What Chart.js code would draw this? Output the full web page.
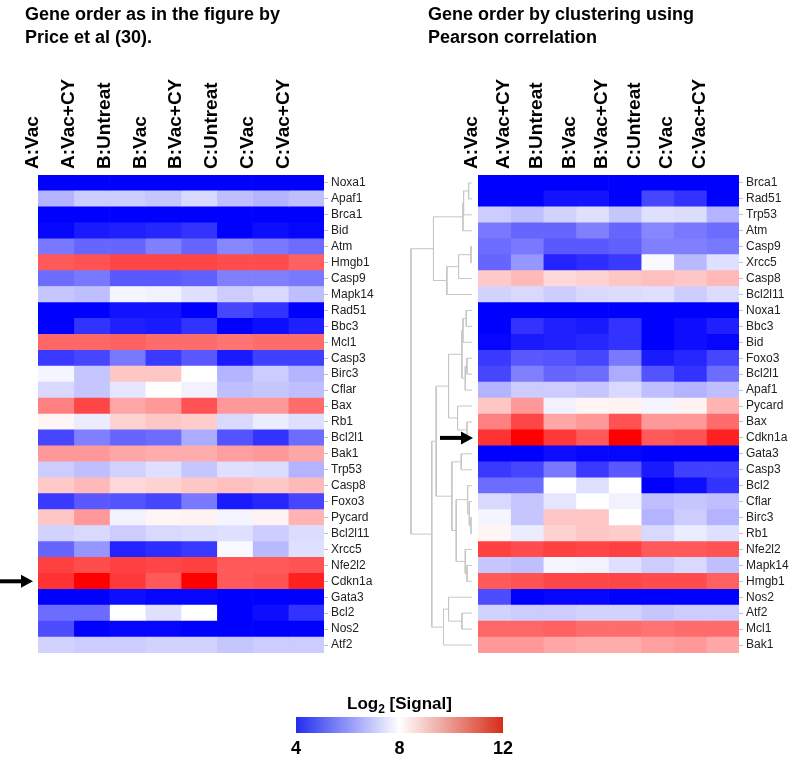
<!DOCTYPE html>
<html>
<head>
<meta charset="utf-8">
<script src="https://cdn.jsdelivr.net/npm/chart.js@4.4.1/dist/chart.umd.min.js"></script>
<style>
html, body { margin: 0; padding: 0; background: #fff; }
#wrap { position: relative; width: 793px; height: 761px; overflow: hidden; font-family: Arial, "Liberation Sans", sans-serif; }
#wrap canvas { position: absolute; left: 0; top: 0; }
.ttl { position: absolute; font-weight: bold; font-size: 18px; line-height: 23px; color: #000; white-space: nowrap; }
#legTitle { position: absolute; left: 296px; width: 207px; top: 694px; text-align: center; font-weight: bold; font-size: 17px; line-height: 20px; }
#legTitle sub { font-size: 12px; }
</style>
</head>
<body>
<div id="wrap">
  <canvas id="dendro" width="793" height="761"></canvas>
  <canvas id="left" width="793" height="761"></canvas>
  <canvas id="right" width="793" height="761"></canvas>
  <canvas id="scale" width="793" height="761"></canvas>
  <div class="ttl" style="left:25px; top:3px">Gene order as in the figure by<br>Price et al (30).</div>
  <div class="ttl" style="left:428px; top:3px">Gene order by clustering using<br>Pearson correlation</div>
  <div id="legTitle">Log<sub>2</sub> [Signal]</div>
</div>
<script>
"use strict";
Chart.defaults.font.family = 'Arial, "Liberation Sans", sans-serif';

const conditions = ["A:Vac", "A:Vac+CY", "B:Untreat", "B:Vac", "B:Vac+CY", "C:Untreat", "C:Vac", "C:Vac+CY"];

// gene order as in Price et al
const genes = ["Noxa1", "Apaf1", "Brca1", "Bid", "Atm", "Hmgb1", "Casp9", "Mapk14", "Rad51", "Bbc3",
  "Mcl1", "Casp3", "Birc3", "Cflar", "Bax", "Rb1", "Bcl2l1", "Bak1", "Trp53", "Casp8",
  "Foxo3", "Pycard", "Bcl2l11", "Xrcc5", "Nfe2l2", "Cdkn1a", "Gata3", "Bcl2", "Nos2", "Atf2"];

// log2 signal, one row per gene (same order as genes), one value per condition
const signal = [
  [3.8, 3.8, 3.9, 3.9, 3.8, 3.8, 3.8, 3.8],
  [6.8, 7.2, 7.2, 7.1, 7.4, 7.0, 6.8, 7.0],
  [3.8, 3.8, 3.9, 3.9, 3.8, 3.9, 3.9, 3.8],
  [4.1, 4.4, 4.5, 4.6, 4.8, 4.0, 4.2, 4.1],
  [5.9, 5.6, 5.6, 6.0, 5.6, 6.1, 5.9, 5.7],
  [10.6, 10.7, 10.9, 10.9, 10.9, 10.8, 10.8, 10.5],
  [5.7, 5.9, 5.4, 5.4, 5.5, 6.0, 6.0, 5.9],
  [7.1, 7.0, 7.85, 7.8, 7.5, 7.2, 7.4, 7.0],
  [4.0, 4.0, 4.3, 4.3, 4.0, 5.1, 4.8, 4.0],
  [4.0, 4.8, 4.5, 4.4, 4.8, 3.9, 4.2, 4.5],
  [10.4, 10.4, 10.5, 10.3, 10.3, 10.2, 10.3, 10.3],
  [4.9, 5.1, 5.9, 4.9, 5.4, 4.4, 5.0, 5.0],
  [7.85, 7.1, 8.9, 8.9, 8.0, 6.8, 7.2, 6.8],
  [7.4, 7.1, 7.6, 8.0, 7.8, 7.0, 7.1, 7.0],
  [10.0, 10.9, 9.4, 9.6, 10.7, 9.6, 9.6, 10.3],
  [8.15, 7.7, 8.7, 8.9, 8.8, 7.4, 7.7, 7.5],
  [5.1, 6.0, 5.6, 5.7, 6.7, 5.3, 4.8, 5.7],
  [9.6, 9.6, 9.4, 9.3, 9.3, 9.5, 9.6, 9.4],
  [7.2, 7.0, 7.3, 7.5, 7.1, 7.5, 7.45, 6.8],
  [8.85, 9.1, 8.6, 8.7, 8.9, 9.0, 8.9, 9.1],
  [4.9, 5.4, 5.3, 5.1, 5.9, 4.4, 4.6, 5.1],
  [8.9, 9.6, 7.8, 8.15, 8.2, 7.85, 8.2, 9.2],
  [7.3, 7.4, 7.2, 7.4, 7.45, 7.5, 7.2, 7.45],
  [5.6, 6.35, 4.55, 4.7, 4.9, 7.9, 6.9, 7.5],
  [11.0, 10.8, 11.0, 10.9, 11.0, 10.6, 10.6, 10.7],
  [11.2, 12.2, 11.1, 10.6, 12.3, 10.6, 10.7, 11.5],
  [3.9, 3.9, 4.2, 4.1, 4.1, 3.9, 3.9, 3.9],
  [5.7, 5.7, 8.0, 7.5, 8.0, 3.9, 4.2, 4.8],
  [5.2, 3.9, 4.1, 4.1, 3.9, 3.9, 3.9, 3.9],
  [7.3, 7.2, 7.2, 7.3, 7.3, 7.1, 7.2, 7.2]
];

// gene order from hierarchical clustering (Pearson)
const clusterOrder = ["Brca1", "Rad51", "Trp53", "Atm", "Casp9", "Xrcc5", "Casp8", "Bcl2l11", "Noxa1", "Bbc3",
  "Bid", "Foxo3", "Bcl2l1", "Apaf1", "Pycard", "Bax", "Cdkn1a", "Gata3", "Casp3", "Bcl2",
  "Cflar", "Birc3", "Rb1", "Nfe2l2", "Mapk14", "Hmgb1", "Nos2", "Atf2", "Mcl1", "Bak1"];

// dendrogram merges: [node, child a, child b, distance]
const merges = [
  ["c1", "Brca1", "Rad51", 0.10], ["c2", "c1", "Trp53", 0.25], ["c3", "c2", "Atm", 0.27],
  ["c4", "Casp9", "Xrcc5", 0.03], ["c5", "c4", "Casp8", 0.40], ["c6", "c5", "Bcl2l11", 0.75],
  ["c7", "c3", "c6", 1.15],
  ["m1", "Noxa1", "Bbc3", 0.17], ["m2", "m1", "Bid", 0.27], ["m3", "Foxo3", "Bcl2l1", 0.15],
  ["m4", "m3", "Apaf1", 0.20], ["m5", "m2", "m4", 0.30], ["m6", "Bax", "Cdkn1a", 0.15],
  ["m7", "Pycard", "m6", 0.43], ["m8", "m5", "m7", 0.70],
  ["l1", "Gata3", "Casp3", 0.32], ["l2", "Birc3", "Rb1", 0.03], ["l3", "Cflar", "l2", 0.08],
  ["l4", "Bcl2", "l3", 0.13], ["l5", "Mapk14", "Hmgb1", 0.15], ["l6", "Nfe2l2", "l5", 0.20],
  ["l7", "l4", "l6", 0.47], ["l8", "l1", "l7", 0.60],
  ["ml", "m8", "l8", 1.07],
  ["b1", "Atf2", "Mcl1", 0.30], ["b2", "Nos2", "b1", 0.70], ["b3", "b2", "Bak1", 0.85],
  ["mlb", "ml", "b3", 1.20],
  ["root", "c7", "mlb", 1.82]
];

const legendTicks = [4, 8, 12];
const marked = "Cdkn1a";

function signalColor(v) {
  let t;
  if (v < 8) {
    t = Math.max(0, Math.min(1, (v - 4) / 4));
    const c = Math.round(255 * t);
    return `rgb(${c},${c},255)`;
  }
  t = Math.max(0, Math.min(1, (v - 8) / 4));
  const c = Math.round(255 * (1 - t));
  return `rgb(255,${c},${c})`;
}

const arrowPlugin = {
  id: 'arrow',
  afterDraw(chart, args, opts) {
    const y = chart.scales.y.getPixelForValue(chart.data.labels.indexOf(marked));
    const ctx = chart.ctx;
    ctx.save();
    ctx.fillStyle = '#000';
    ctx.fillRect(opts.x0, y - 2, opts.x1 - opts.x0 - 10, 4);
    ctx.beginPath();
    ctx.moveTo(opts.x1, y);
    ctx.lineTo(opts.x1 - 12, y - 6.5);
    ctx.lineTo(opts.x1 - 12, y + 6.5);
    ctx.closePath();
    ctx.fill();
    ctx.restore();
  }
};

function heatmap(id, order, area, arrow) {
  const datasets = conditions.map((c, j) => ({
    label: c,
    data: order.map(() => [j, j + 1]),
    backgroundColor: order.map(g => signalColor(signal[genes.indexOf(g)][j])),
    borderWidth: 0,
    grouped: false,
    barPercentage: 1,
    categoryPercentage: 1
  }));
  return new Chart(document.getElementById(id), {
    type: 'bar',
    data: { labels: order, datasets: datasets },
    options: {
      indexAxis: 'y',
      responsive: false,
      animation: false,
      devicePixelRatio: 1,
      layout: { padding: { left: area.left, top: 0, right: 0, bottom: 761 - area.bottom } },
      plugins: { legend: { display: false }, tooltip: { enabled: false }, arrow: arrow },
      scales: {
        x: {
          type: 'linear', position: 'top', min: 0, max: conditions.length,
          afterBuildTicks: s => { s.ticks = conditions.map((c, j) => ({ value: j + 0.5 })); },
          afterFit: s => { s.height = area.top; },
          grid: { display: false }, border: { display: false },
          ticks: {
            autoSkip: false, minRotation: 90, maxRotation: 90, padding: -2, color: '#000',
            font: { size: 19, weight: 'bold' },
            callback: v => conditions[Math.floor(v)]
          }
        },
        y: {
          position: 'right',
          afterFit: s => { s.width = 793 - area.right; },
          grid: { drawOnChartArea: false, offset: false, tickLength: 4, color: '#c0c0c0' },
          border: { display: false },
          ticks: { autoSkip: false, padding: 3, color: '#222', font: { size: 12 } }
        }
      }
    },
    plugins: [arrowPlugin]
  });
}

heatmap('left', genes, { left: 38, right: 324, top: 175, bottom: 653 }, { x0: 0, x1: 33 });
heatmap('right', clusterOrder, { left: 478, right: 739, top: 175, bottom: 653 }, { x0: 440, x1: 473 });

// dendrogram
const nodes = {};
clusterOrder.forEach((g, i) => { nodes[g] = { y: i + 0.5, h: 0 }; });
const segs = [];
merges.forEach(([name, a, b, h]) => {
  const A = nodes[a], B = nodes[b];
  segs.push({ x: A.h, y: A.y }, { x: h, y: A.y }, { x: h, y: B.y }, { x: B.h, y: B.y }, { x: null, y: null });
  nodes[name] = { y: (A.y + B.y) / 2, h: h };
});

new Chart(document.getElementById('dendro'), {
  type: 'scatter',
  data: { datasets: [{ data: segs, showLine: true, spanGaps: false, borderColor: '#c6c6c6', borderWidth: 1, pointRadius: 0, tension: 0 }] },
  options: {
    responsive: false, animation: false, devicePixelRatio: 1,
    layout: { padding: { left: 405, right: 793 - 478, top: 175, bottom: 761 - 653 } },
    plugins: { legend: { display: false }, tooltip: { enabled: false } },
    scales: {
      x: { type: 'linear', reverse: true, min: -0.18, max: 2.0, display: false },
      y: { type: 'linear', reverse: true, min: 0, max: clusterOrder.length, display: false }
    }
  }
});

// colour scale
new Chart(document.getElementById('scale'), {
  type: 'bar',
  data: {
    labels: ['Log2 [Signal]'],
    datasets: [{
      data: [[legendTicks[0], legendTicks[legendTicks.length - 1]]],
      backgroundColor: ctx => {
        const a = ctx.chart.chartArea;
        if (!a) return null;
        const g = ctx.chart.ctx.createLinearGradient(a.left, 0, a.right, 0);
        g.addColorStop(0, 'rgb(35,45,240)');
        g.addColorStop(0.5, '#ffffff');
        g.addColorStop(1, 'rgb(215,45,25)');
        return g;
      },
      borderWidth: 0, barPercentage: 1, categoryPercentage: 1
    }]
  },
  options: {
    indexAxis: 'y', responsive: false, animation: false, devicePixelRatio: 1,
    layout: { padding: { left: 296, right: 793 - 503, top: 717, bottom: 0 } },
    plugins: { legend: { display: false }, tooltip: { enabled: false } },
    scales: {
      x: {
        type: 'linear', min: 4, max: 12,
        afterBuildTicks: s => { s.ticks = legendTicks.map(v => ({ value: v })); },
        afterFit: s => { s.height = 761 - 733; },
        grid: { display: false }, border: { display: false },
        ticks: { padding: -3, color: '#000', font: { size: 18, weight: 'bold' } }
      },
      y: { display: false }
    }
  }
});
</script>
</body>
</html>
